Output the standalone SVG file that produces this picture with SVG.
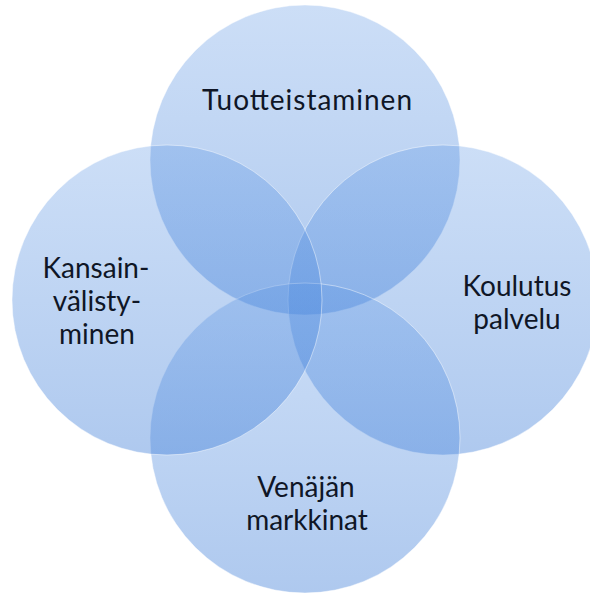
<svg xmlns="http://www.w3.org/2000/svg" width="590" height="593" viewBox="0 0 590 593">
  <defs>
    <linearGradient id="g" x1="0" y1="0" x2="0" y2="1">
      <stop offset="0" stop-color="#5b95e4" stop-opacity="0.31"/>
      <stop offset="1" stop-color="#3f7ed8" stop-opacity="0.42"/>
    </linearGradient>
  </defs>
  <style>
    .c { fill: url(#g); stroke: #ffffff; stroke-opacity: 0.45; stroke-width: 1; }
    .t { font-family: Lato, "Open Sans", "Liberation Sans", sans-serif; font-size: 28px; fill: #0f1626; text-anchor: middle; }
  </style>
  <rect width="590" height="593" fill="#ffffff"/>
  <g id="connectors"></g>
  <g id="node-tuotteistaminen">
    <circle class="c" cx="305" cy="160" r="155"/>
  </g>
  <g id="node-koulutus">
    <circle class="c" cx="443" cy="300" r="155"/>
  </g>
  <g id="node-venajan">
    <circle class="c" cx="305" cy="438" r="155"/>
  </g>
  <g id="node-kansainvalistyminen">
    <circle class="c" cx="167" cy="300" r="155"/>
  </g>
  <g id="labels">
    <text class="t" x="307" y="110" textLength="210" lengthAdjust="spacing">Tuotteistaminen</text>
    <text class="t" x="96" y="278">Kansain-</text>
    <text class="t" x="97" y="311">välisty-</text>
    <text class="t" x="97" y="344">minen</text>
    <text class="t" x="517" y="296">Koulutus</text>
    <text class="t" x="517" y="329">palvelu</text>
    <text class="t" x="306" y="497">Venäjän</text>
    <text class="t" x="307" y="530">markkinat</text>
  </g>
</svg>
